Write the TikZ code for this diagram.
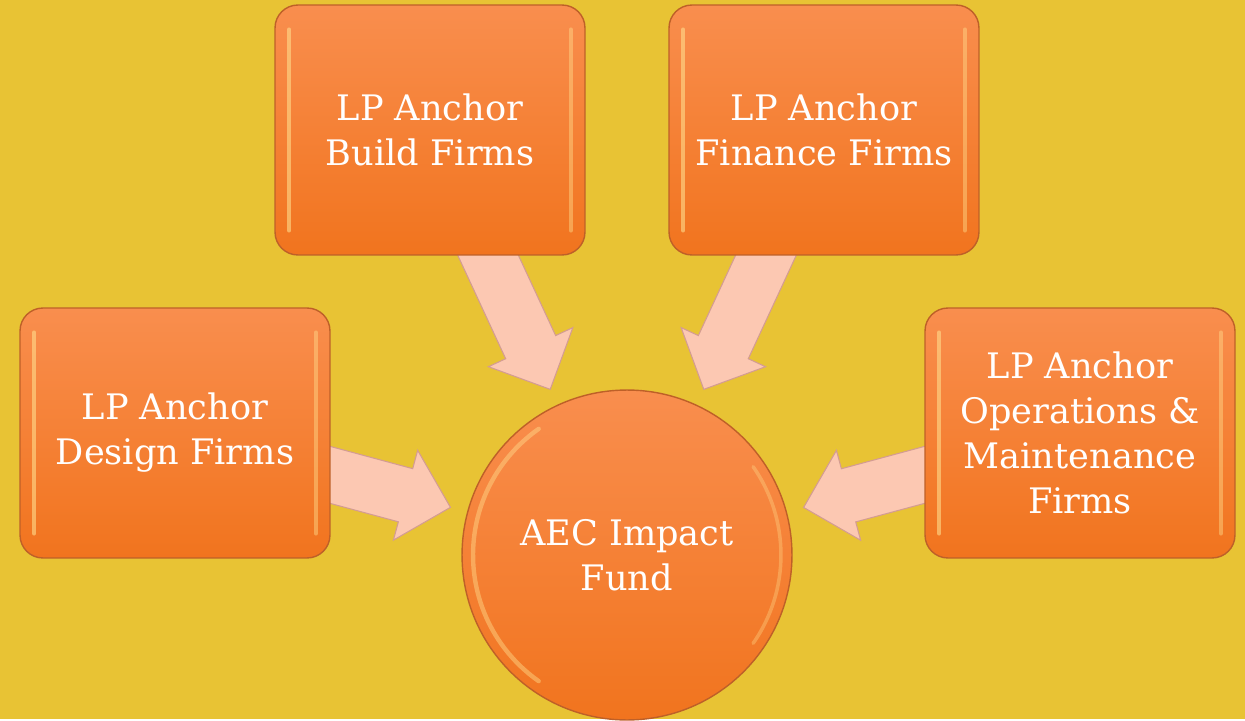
\documentclass[tikz,border=0pt]{standalone}
\usepackage{fontspec}
\setmainfont{DejaVu Serif}
\usepackage{tikz}
\usetikzlibrary{shapes.arrows,positioning,backgrounds}
\definecolor{bgGold}{RGB}{232,195,52}
\definecolor{boxTop}{RGB}{249,142,78}
\definecolor{boxBot}{RGB}{241,116,30}
\definecolor{boxEdge}{RGB}{190,96,40}
\definecolor{boxGlint}{RGB}{255,220,140}
\definecolor{arrFill}{RGB}{252,200,178}
\definecolor{arrEdge}{RGB}{212,156,146}

\begin{document}
\begin{tikzpicture}[x=0.02cm,y=-0.02cm,
  firm/.style={draw=boxEdge,line width=0.8pt,rounded corners=13pt,
               top color=boxTop,bottom color=boxBot,
               minimum width=6.2cm,minimum height=5cm,inner sep=0pt,
               text=white,align=center,font=\fontsize{20}{25.6}\selectfont,
               path picture={
                 \draw[boxGlint,opacity=.6,line width=2.5pt,line cap=round]
                   ([shift={(8pt,-14pt)}]path picture bounding box.north west) --
                   ([shift={(8pt,14pt)}]path picture bounding box.south west);
                 \draw[boxGlint,opacity=.45,line width=2.5pt,line cap=round]
                   ([shift={(-8pt,-14pt)}]path picture bounding box.north east) --
                   ([shift={(-8pt,14pt)}]path picture bounding box.south east);}},
  hub/.style={circle,draw=boxEdge,line width=0.8pt,
              top color=boxTop,bottom color=boxBot,
              minimum size=6.6cm,inner sep=0pt,
              text=white,align=center,font=\fontsize{20}{25.6}\selectfont,
              path picture={
                \draw[boxGlint,opacity=.45,line width=2.5pt,line cap=round]
                  ([shift={(125:3.08cm)}]path picture bounding box.center)
                  arc[start angle=125,end angle=235,radius=3.08cm];
                \draw[boxGlint,opacity=.35,line width=2pt,line cap=round]
                  ([shift={(-35:3.08cm)}]path picture bounding box.center)
                  arc[start angle=-35,end angle=35,radius=3.08cm];}},
  flow/.style={single arrow,draw=arrEdge,line width=0.6pt,fill=arrFill,
               inner xsep=0pt,inner ysep=0.54cm,
               single arrow head extend=0.38cm,
               sloped,allow upside down,anchor=tip}]

  % fund in the middle, four anchor groups around it
  \node[hub]  (fund) at (627,555) {AEC Impact\\Fund};
  \node[firm] (bld)  at (430,130) {LP Anchor\\Build Firms};
  \node[firm] (fin)  at (824,130) {LP Anchor\\Finance Firms};
  \node[firm] (dsn)  at (175,433) {LP Anchor\\Design Firms};
  \node[firm] (ops)  at (1080,433) {LP Anchor\\Operations \&\\Maintenance\\Firms};

  \begin{pgfonlayer}{background}
    \fill[bgGold] (0,0) rectangle (1245,719);
    % block arrows into the fund, tails tucked under the boxes
    \path (bld.center) -- node[flow,pos=.9466,minimum height=3.5cm] (bldarr) {} (fund);
    \path (fin.center) -- node[flow,pos=.9466,minimum height=3.5cm] (finarr) {} (fund);
    \path (dsn.center) -- node[flow,pos=.9456,minimum height=3.13cm] (dsnarr) {} (fund);
    \path (ops.center) -- node[flow,pos=.9456,minimum height=3.13cm] (opsarr) {} (fund);
  \end{pgfonlayer}
\end{tikzpicture}
\end{document}
